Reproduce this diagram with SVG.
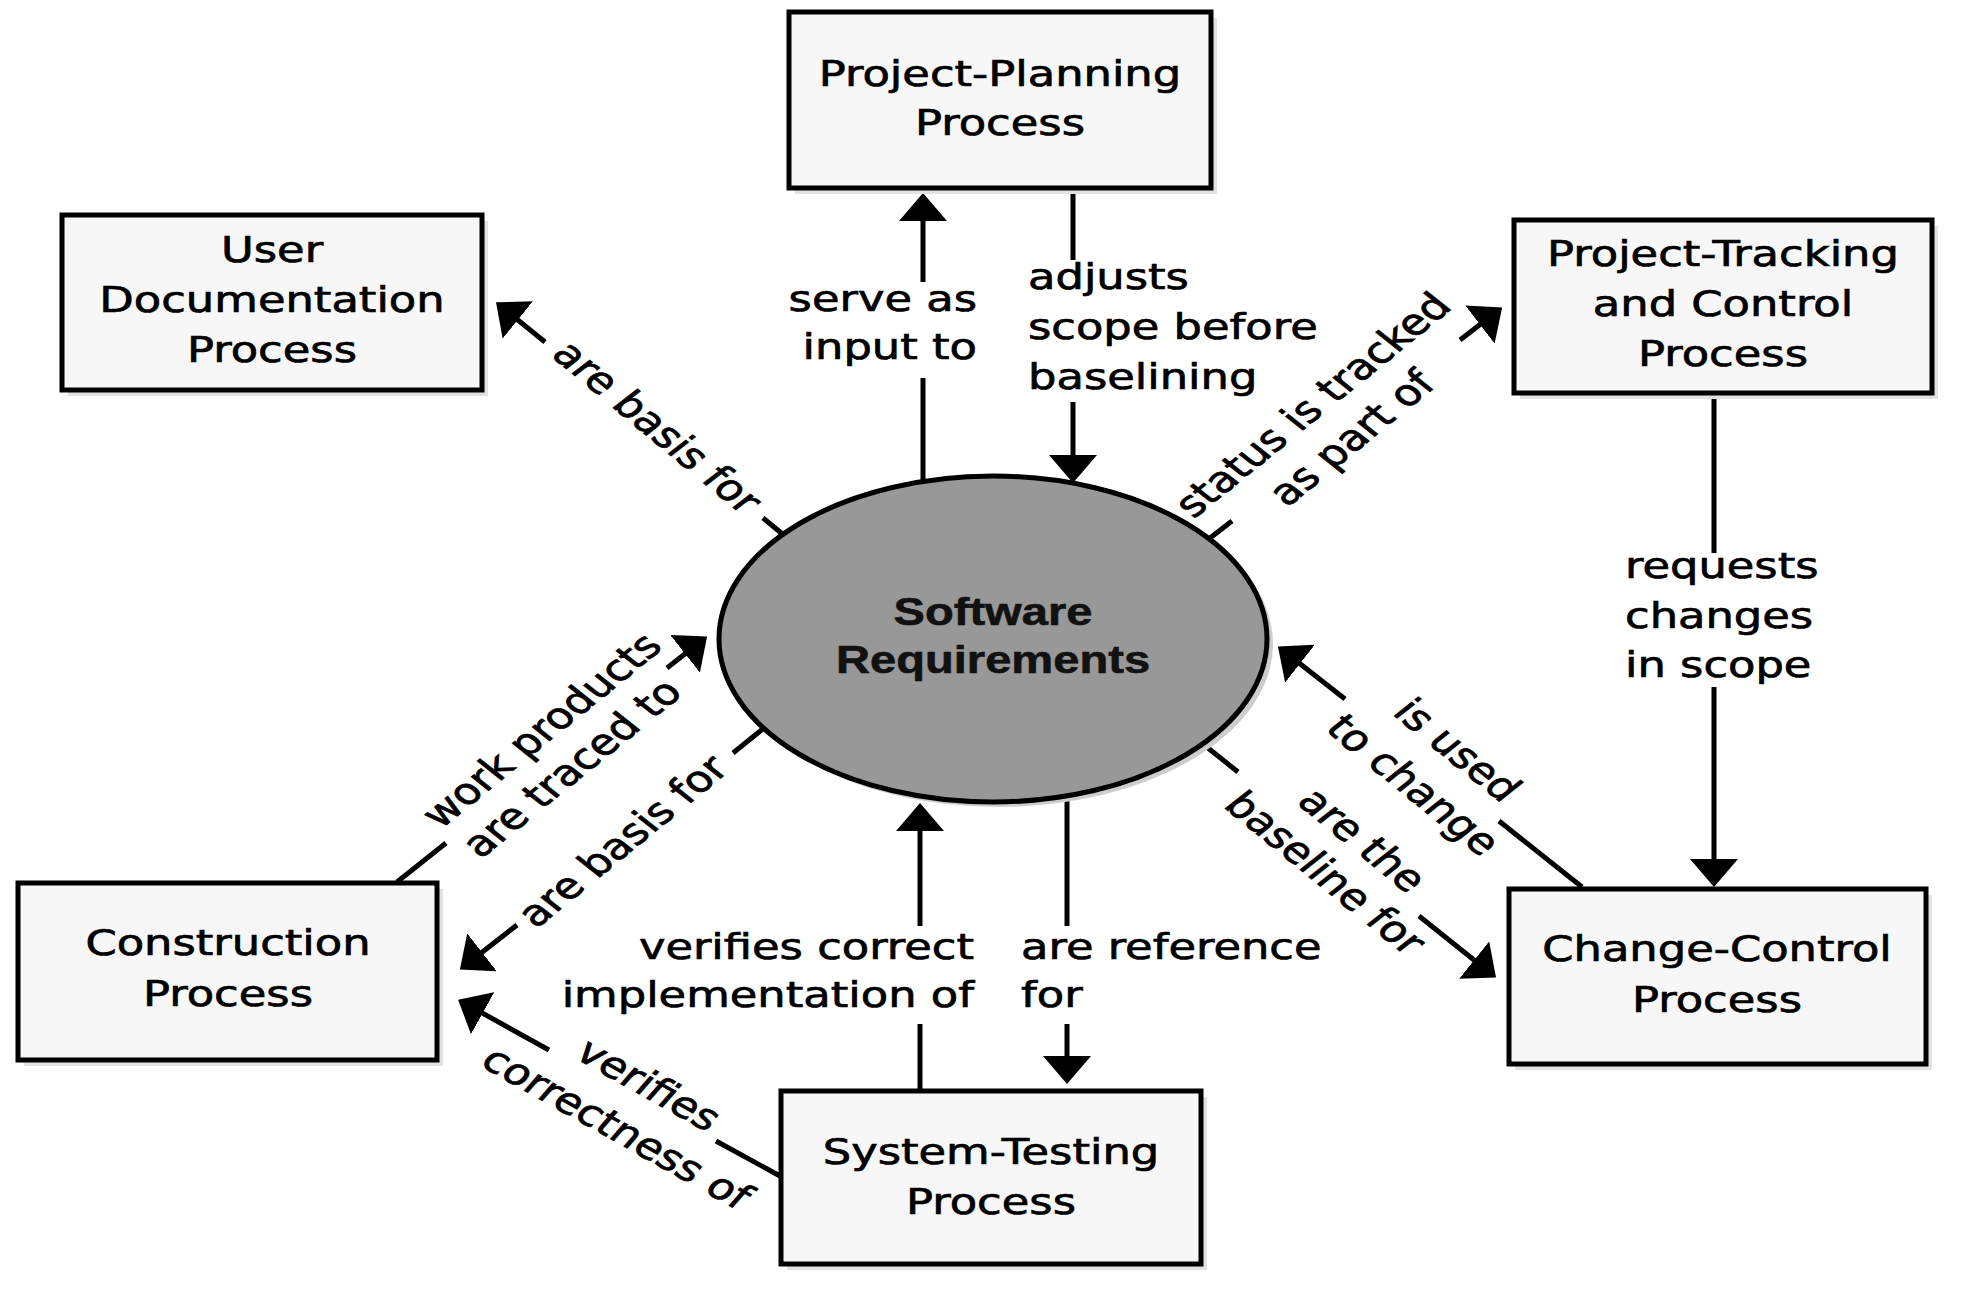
<svg xmlns="http://www.w3.org/2000/svg" width="1976" height="1306" viewBox="0 0 1976 1306">
<style>
.bg{fill:#ffffff}
.shadow{fill:#e2e2e2}
.box{fill:#f7f7f7;stroke:#000;stroke-width:5}
.ell{fill:#989898;stroke:#000;stroke-width:5}
.ellsh{fill:#cdcdcd}
.conn{stroke:#000;stroke-width:5;fill:none;stroke-linecap:butt}
.arr{marker-end:url(#ah)}
.t{font-family:"DejaVu Sans","Liberation Sans",sans-serif;font-size:36px;fill:#000;stroke:#000;stroke-width:0.7}
.tb{font-family:"Liberation Sans",Arial,sans-serif;font-size:38px;font-weight:bold;fill:#111;stroke:#111;stroke-width:0.6}
.m{text-anchor:middle}
.e{text-anchor:end}
.s{text-anchor:start}
</style>
<defs>
<marker id="ah" markerUnits="userSpaceOnUse" markerWidth="28" markerHeight="48" viewBox="0 0 28 48" refX="19" refY="24" orient="auto">
<path d="M0,0 L28,24 L0,48 z" fill="#000"/>
</marker>
</defs>
<rect class="bg" x="0" y="0" width="1976" height="1306"/>

<g id="connectors">
<g id="c-serve">
<path class="conn arr" d="M923,282 L923,202"/>
<path class="conn" d="M923,378 L923,483"/>
<text class="t e" transform="translate(977,311) scale(1.245,1)">serve as</text>
<text class="t e" transform="translate(977,359) scale(1.245,1)">input to</text>
</g>
<g id="c-adjusts">
<path class="conn" d="M1073,190 L1073,260"/>
<path class="conn arr" d="M1073,402 L1073,474"/>
<text class="t s" transform="translate(1028,289) scale(1.245,1)">adjusts</text>
<text class="t s" transform="translate(1028,339) scale(1.245,1)">scope before</text>
<text class="t s" transform="translate(1028,389) scale(1.245,1)">baselining</text>
</g>
<g id="c-userdoc">
<path class="conn arr" d="M545,342 L503,308"/>
<path class="conn" d="M763,518 L785,536"/>
<text class="t m" transform="translate(655,429) scale(1.245,1) rotate(46)" y="9.5">are basis for</text>
</g>
<g id="c-tracking">
<path class="conn" d="M1210,538 L1232,521"/>
<path class="conn arr" d="M1460,340 L1495,313"/>
<text class="t m" transform="translate(1315,407) scale(1.245,1) rotate(-45.4)" y="9.5">status is tracked</text>
<text class="t m" transform="translate(1354,440) scale(1.245,1) rotate(-45.4)" y="9.5">as part of</text>
</g>
<g id="c-requests">
<path class="conn" d="M1714,393 L1714,553"/>
<path class="conn arr" d="M1714,687 L1714,878"/>
<text class="t s" transform="translate(1625,578) scale(1.245,1)">requests</text>
<text class="t s" transform="translate(1625,628) scale(1.245,1)">changes</text>
<text class="t s" transform="translate(1625,677) scale(1.245,1)">in scope</text>
</g>
<g id="c-isused">
<path class="conn arr" d="M1345,699 L1285,652"/>
<path class="conn" d="M1499,821 L1582,887"/>
<text class="t m" transform="translate(1455,752) scale(1.245,1) rotate(45.4)" y="9.5">is used</text>
<text class="t m" transform="translate(1411,787) scale(1.245,1) rotate(45.4)" y="9.5">to change</text>
</g>
<g id="c-baseline">
<path class="conn" d="M1198,740 L1238,772"/>
<path class="conn arr" d="M1419,916 L1489,972"/>
<text class="t m" transform="translate(1360,842) scale(1.245,1) rotate(45.5)" y="9.5">are the</text>
<text class="t m" transform="translate(1323,875) scale(1.245,1) rotate(45.5)" y="9.5">baseline for</text>
</g>
<g id="c-workproducts">
<path class="conn" d="M397,882 L446,843"/>
<path class="conn arr" d="M667,668 L700,642"/>
<text class="t m" transform="translate(544,732) scale(1.245,1) rotate(-45.4)" y="9.5">work products</text>
<text class="t m" transform="translate(574,770) scale(1.245,1) rotate(-45.4)" y="9.5">are traced to</text>
</g>
<g id="c-constr">
<path class="conn arr" d="M517,925 L467,964"/>
<path class="conn" d="M733,753 L764,728"/>
<text class="t m" transform="translate(625,843) scale(1.245,1) rotate(-45.5)" y="9.5">are basis for</text>
</g>
<g id="c-verifies">
<path class="conn arr" d="M549,1050 L466,1004"/>
<path class="conn" d="M716,1141 L780,1176"/>
<text class="t m" transform="translate(647,1087) scale(1.245,1) rotate(35)" y="9.5">verifies</text>
<text class="t m" transform="translate(615,1130) scale(1.245,1) rotate(35)" y="9.5">correctness of</text>
</g>
<g id="c-implementation">
<path class="conn arr" d="M920,926 L920,812"/>
<path class="conn" d="M920,1024 L920,1090"/>
<text class="t e" transform="translate(974,959) scale(1.245,1)">verifies correct</text>
<text class="t e" transform="translate(974,1007) scale(1.245,1)">implementation of</text>
</g>
<g id="c-reference">
<path class="conn" d="M1067,800 L1067,926"/>
<path class="conn arr" d="M1067,1024 L1067,1075"/>
<text class="t s" transform="translate(1021,959) scale(1.245,1)">are reference</text>
<text class="t s" transform="translate(1021,1007) scale(1.245,1)">for</text>
</g>
</g>

<g id="node-requirements">
<ellipse class="ellsh" cx="998" cy="644" rx="275" ry="163"/>
<ellipse class="ell" cx="993" cy="639" rx="274" ry="163"/>
<text class="tb m" transform="translate(993,625) scale(1.24,1)">Software</text>
<text class="tb m" transform="translate(993,673) scale(1.24,1)">Requirements</text>
</g>

<g id="node-planning">
<rect class="shadow" x="795" y="18" width="422" height="176"/>
<rect class="box" x="789" y="12" width="422" height="176"/>
<text class="t m" transform="translate(1000,86) scale(1.245,1)">Project-Planning</text>
<text class="t m" transform="translate(1000,135) scale(1.245,1)">Process</text>
</g>

<g id="node-userdoc">
<rect class="shadow" x="68" y="221" width="420" height="175"/>
<rect class="box" x="62" y="215" width="420" height="175"/>
<text class="t m" transform="translate(272,262) scale(1.245,1)">User</text>
<text class="t m" transform="translate(272,312) scale(1.245,1)">Documentation</text>
<text class="t m" transform="translate(272,362) scale(1.245,1)">Process</text>
</g>

<g id="node-tracking">
<rect class="shadow" x="1520" y="226" width="418" height="173"/>
<rect class="box" x="1514" y="220" width="418" height="173"/>
<text class="t m" transform="translate(1723,266) scale(1.245,1)">Project-Tracking</text>
<text class="t m" transform="translate(1723,316) scale(1.245,1)">and Control</text>
<text class="t m" transform="translate(1723,366) scale(1.245,1)">Process</text>
</g>

<g id="node-construction">
<rect class="shadow" x="24" y="889" width="419" height="177"/>
<rect class="box" x="18" y="883" width="419" height="177"/>
<text class="t m" transform="translate(228,955) scale(1.245,1)">Construction</text>
<text class="t m" transform="translate(228,1006) scale(1.245,1)">Process</text>
</g>

<g id="node-testing">
<rect class="shadow" x="787" y="1097" width="420" height="173"/>
<rect class="box" x="781" y="1091" width="420" height="173"/>
<text class="t m" transform="translate(991,1164) scale(1.245,1)">System-Testing</text>
<text class="t m" transform="translate(991,1214) scale(1.245,1)">Process</text>
</g>

<g id="node-changecontrol">
<rect class="shadow" x="1515" y="895" width="417" height="175"/>
<rect class="box" x="1509" y="889" width="417" height="175"/>
<text class="t m" transform="translate(1717,961) scale(1.245,1)">Change-Control</text>
<text class="t m" transform="translate(1717,1012) scale(1.245,1)">Process</text>
</g>
</svg>
